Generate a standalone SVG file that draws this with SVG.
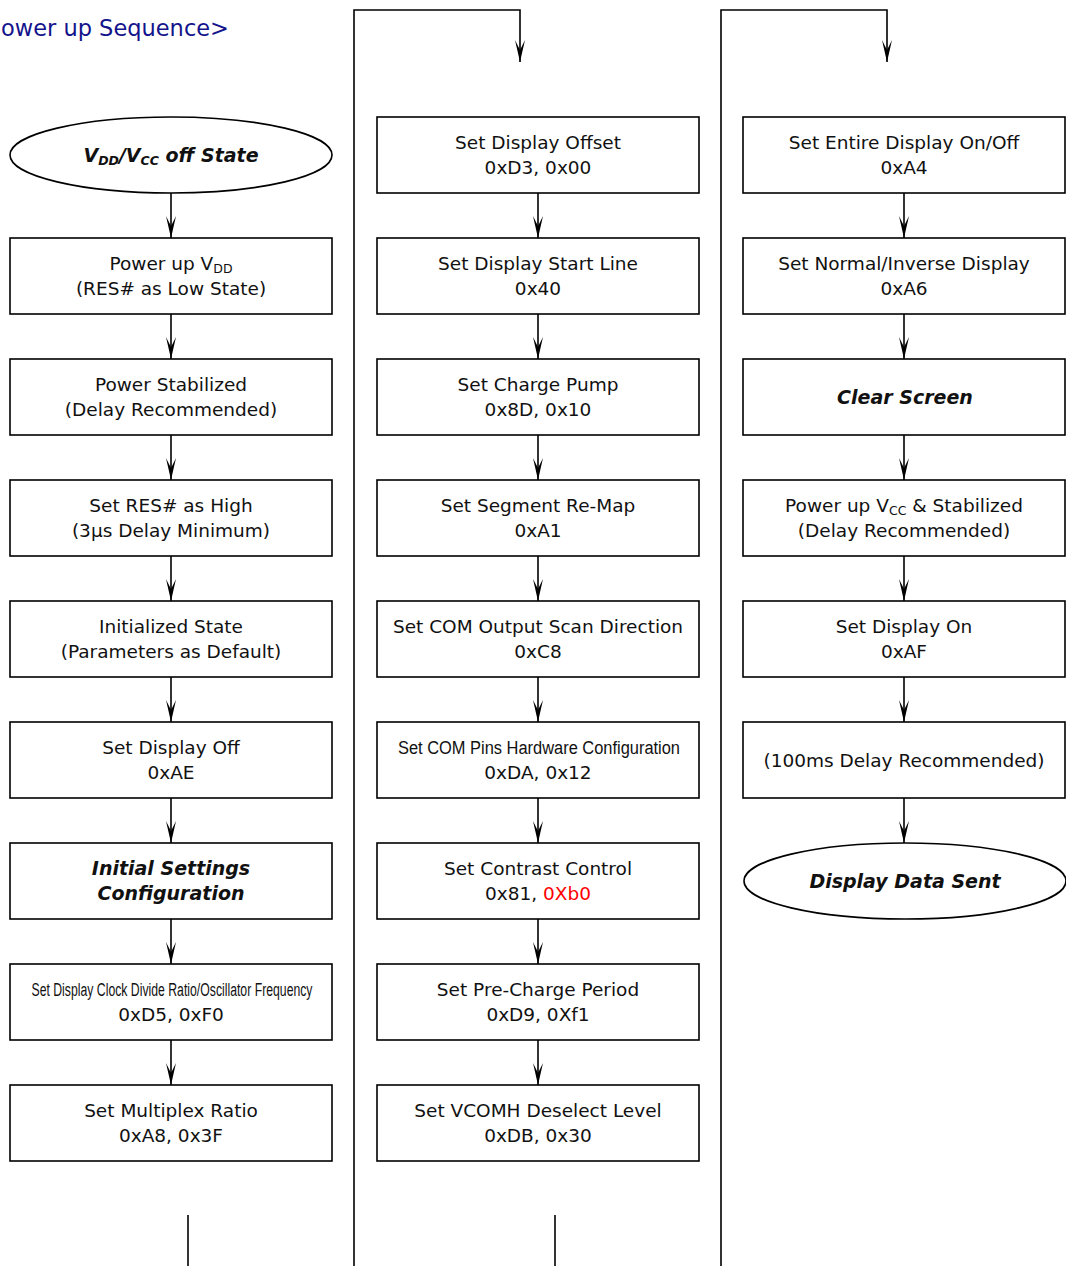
<svg xmlns="http://www.w3.org/2000/svg" width="1066" height="1266" viewBox="0 0 1066 1266">
<defs>
<style>
.box{fill:#fff;stroke:#000;stroke-width:1.6}
.t{font-family:"DejaVu Sans",Verdana,sans-serif;font-size:18.5px;fill:#111;text-anchor:middle}
.b{font-family:"DejaVu Sans",Verdana,sans-serif;font-size:19px;font-weight:bold;font-style:italic;fill:#111;text-anchor:middle}
.n{font-family:"Liberation Sans",Arial,sans-serif;font-size:18px;fill:#111;text-anchor:middle}
.sub{font-size:12.5px}
.ln{fill:none;stroke:#000;stroke-width:1.6}
</style>
<marker id="ah" markerUnits="userSpaceOnUse" orient="auto" markerWidth="26" markerHeight="14" viewBox="-24 -7 26 14" refX="0" refY="0" overflow="visible">
<path d="M0,0 L-22,-5 L-12,0 L-22,5 Z" fill="#000"/>
</marker>
</defs>
<rect width="1066" height="1266" fill="#fff"/>

<text x="1" y="36" font-family="'DejaVu Sans',Verdana,sans-serif" font-size="22.5" fill="#13138c">ower up Sequence&gt;</text>

<g id="connectors">
<line class="ln" x1="171" y1="193" x2="171" y2="238" marker-end="url(#ah)"/>
<line class="ln" x1="171" y1="314" x2="171" y2="359" marker-end="url(#ah)"/>
<line class="ln" x1="171" y1="435" x2="171" y2="480" marker-end="url(#ah)"/>
<line class="ln" x1="171" y1="556" x2="171" y2="601" marker-end="url(#ah)"/>
<line class="ln" x1="171" y1="677" x2="171" y2="722" marker-end="url(#ah)"/>
<line class="ln" x1="171" y1="798" x2="171" y2="843" marker-end="url(#ah)"/>
<line class="ln" x1="171" y1="919" x2="171" y2="964" marker-end="url(#ah)"/>
<line class="ln" x1="171" y1="1040" x2="171" y2="1085" marker-end="url(#ah)"/>
<line class="ln" x1="538" y1="193" x2="538" y2="238" marker-end="url(#ah)"/>
<line class="ln" x1="538" y1="314" x2="538" y2="359" marker-end="url(#ah)"/>
<line class="ln" x1="538" y1="435" x2="538" y2="480" marker-end="url(#ah)"/>
<line class="ln" x1="538" y1="556" x2="538" y2="601" marker-end="url(#ah)"/>
<line class="ln" x1="538" y1="677" x2="538" y2="722" marker-end="url(#ah)"/>
<line class="ln" x1="538" y1="798" x2="538" y2="843" marker-end="url(#ah)"/>
<line class="ln" x1="538" y1="919" x2="538" y2="964" marker-end="url(#ah)"/>
<line class="ln" x1="538" y1="1040" x2="538" y2="1085" marker-end="url(#ah)"/>
<line class="ln" x1="904" y1="193" x2="904" y2="238" marker-end="url(#ah)"/>
<line class="ln" x1="904" y1="314" x2="904" y2="359" marker-end="url(#ah)"/>
<line class="ln" x1="904" y1="435" x2="904" y2="480" marker-end="url(#ah)"/>
<line class="ln" x1="904" y1="556" x2="904" y2="601" marker-end="url(#ah)"/>
<line class="ln" x1="904" y1="677" x2="904" y2="722" marker-end="url(#ah)"/>
<line class="ln" x1="904" y1="798" x2="904" y2="843" marker-end="url(#ah)"/>
<polyline class="ln" points="354,1266 354,10 520,10 520,62" marker-end="url(#ah)"/>
<polyline class="ln" points="721,1266 721,10 887,10 887,62" marker-end="url(#ah)"/>
<line class="ln" x1="188" y1="1215" x2="188" y2="1266"/>
<line class="ln" x1="555" y1="1215" x2="555" y2="1266"/>
</g>

<!-- column 1 -->
<g id="n_off">
<ellipse cx="171" cy="155" rx="161" ry="38" class="box"/>
<text class="b" x="171" y="162">V<tspan class="sub" dy="3">DD</tspan><tspan dy="-3">/V</tspan><tspan class="sub" dy="3">CC</tspan><tspan dy="-3"> off State</tspan></text>
</g>
<g id="n_vdd">
<rect x="10" y="238" width="322" height="76" class="box"/>
<text class="t" x="171" y="270">Power up V<tspan class="sub" dy="3">DD</tspan></text>
<text class="t" x="171" y="295">(RES# as Low State)</text>
</g>
<g id="n_stab">
<rect x="10" y="359" width="322" height="76" class="box"/>
<text class="t" x="171" y="391">Power Stabilized</text>
<text class="t" x="171" y="416">(Delay Recommended)</text>
</g>
<g id="n_res">
<rect x="10" y="480" width="322" height="76" class="box"/>
<text class="t" x="171" y="512">Set RES# as High</text>
<text class="t" x="171" y="537">(3µs Delay Minimum)</text>
</g>
<g id="n_init">
<rect x="10" y="601" width="322" height="76" class="box"/>
<text class="t" x="171" y="633">Initialized State</text>
<text class="t" x="171" y="658">(Parameters as Default)</text>
</g>
<g id="n_off2">
<rect x="10" y="722" width="322" height="76" class="box"/>
<text class="t" x="171" y="754">Set Display Off</text>
<text class="t" x="171" y="779">0xAE</text>
</g>
<g id="n_cfg">
<rect x="10" y="843" width="322" height="76" class="box"/>
<text class="b" x="171" y="875">Initial Settings</text>
<text class="b" x="171" y="900">Configuration</text>
</g>
<g id="n_clk">
<rect x="10" y="964" width="322" height="76" class="box"/>
<text class="n" x="172" y="996" textLength="281" lengthAdjust="spacingAndGlyphs">Set Display Clock Divide Ratio/Oscillator Frequency</text>
<text class="t" x="171" y="1021">0xD5, 0xF0</text>
</g>
<g id="n_mux">
<rect x="10" y="1085" width="322" height="76" class="box"/>
<text class="t" x="171" y="1117">Set Multiplex Ratio</text>
<text class="t" x="171" y="1142">0xA8, 0x3F</text>
</g>

<!-- column 2 -->
<g id="n_offset">
<rect x="377" y="117" width="322" height="76" class="box"/>
<text class="t" x="538" y="149">Set Display Offset</text>
<text class="t" x="538" y="174">0xD3, 0x00</text>
</g>
<g id="n_start">
<rect x="377" y="238" width="322" height="76" class="box"/>
<text class="t" x="538" y="270">Set Display Start Line</text>
<text class="t" x="538" y="295">0x40</text>
</g>
<g id="n_pump">
<rect x="377" y="359" width="322" height="76" class="box"/>
<text class="t" x="538" y="391">Set Charge Pump</text>
<text class="t" x="538" y="416">0x8D, 0x10</text>
</g>
<g id="n_remap">
<rect x="377" y="480" width="322" height="76" class="box"/>
<text class="t" x="538" y="512">Set Segment Re-Map</text>
<text class="t" x="538" y="537">0xA1</text>
</g>
<g id="n_scan">
<rect x="377" y="601" width="322" height="76" class="box"/>
<text class="t" x="538" y="633">Set COM Output Scan Direction</text>
<text class="t" x="538" y="658">0xC8</text>
</g>
<g id="n_pins">
<rect x="377" y="722" width="322" height="76" class="box"/>
<text class="n" x="539" y="754" textLength="282" lengthAdjust="spacingAndGlyphs">Set COM Pins Hardware Configuration</text>
<text class="t" x="538" y="779">0xDA, 0x12</text>
</g>
<g id="n_contrast">
<rect x="377" y="843" width="322" height="76" class="box"/>
<text class="t" x="538" y="875">Set Contrast Control</text>
<text class="t" x="538" y="900">0x81, <tspan fill="#ff0000">0Xb0</tspan></text>
</g>
<g id="n_precharge">
<rect x="377" y="964" width="322" height="76" class="box"/>
<text class="t" x="538" y="996">Set Pre-Charge Period</text>
<text class="t" x="538" y="1021">0xD9, 0Xf1</text>
</g>
<g id="n_vcomh">
<rect x="377" y="1085" width="322" height="76" class="box"/>
<text class="t" x="538" y="1117">Set VCOMH Deselect Level</text>
<text class="t" x="538" y="1142">0xDB, 0x30</text>
</g>

<!-- column 3 -->
<g id="n_entire">
<rect x="743" y="117" width="322" height="76" class="box"/>
<text class="t" x="904" y="149">Set Entire Display On/Off</text>
<text class="t" x="904" y="174">0xA4</text>
</g>
<g id="n_inverse">
<rect x="743" y="238" width="322" height="76" class="box"/>
<text class="t" x="904" y="270">Set Normal/Inverse Display</text>
<text class="t" x="904" y="295">0xA6</text>
</g>
<g id="n_clear">
<rect x="743" y="359" width="322" height="76" class="box"/>
<text class="b" x="905" y="404">Clear Screen</text>
</g>
<g id="n_vcc">
<rect x="743" y="480" width="322" height="76" class="box"/>
<text class="t" x="904" y="512">Power up V<tspan class="sub" dy="3">CC</tspan><tspan dy="-3"> &amp; Stabilized</tspan></text>
<text class="t" x="904" y="537">(Delay Recommended)</text>
</g>
<g id="n_on">
<rect x="743" y="601" width="322" height="76" class="box"/>
<text class="t" x="904" y="633">Set Display On</text>
<text class="t" x="904" y="658">0xAF</text>
</g>
<g id="n_delay">
<rect x="743" y="722" width="322" height="76" class="box"/>
<text class="t" x="904" y="767">(100ms Delay Recommended)</text>
</g>
<g id="n_sent">
<ellipse cx="905" cy="881" rx="161" ry="38" class="box"/>
<text class="b" x="905" y="888">Display Data Sent</text>
</g>
</svg>
